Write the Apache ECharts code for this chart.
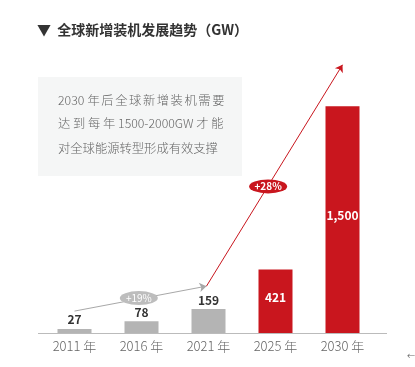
<!DOCTYPE html>
<html><head><meta charset="utf-8">
<script src="https://cdn.jsdelivr.net/npm/echarts@6/dist/echarts.min.js"></script>
<style>html,body{margin:0;padding:0;background:#fff}#c{width:415px;height:367px}</style>
</head><body><div id="c"></div>
<script>
var categories = ['2011 年', '2016 年', '2021 年', '2025 年', '2030 年'];
var values = [27, 78, 159, 421, 1500];
var labelTexts = ['27', '78', '159', '421', '1,500'];
var isForecast = [false, false, false, true, true];
var title = '▼  全球新增装机发展趋势（GW）';
var noteLine1Lead = '2030';
var noteLine1Rest = '年后全球新增装机需要';
var noteLines = ['达 到 每 年 1500-2000GW 才 能', '对全球能源转型形成有效支撑'];
// trend arrows in (category index, GW) terms
var grayArrow = [[0, 145], [1.97, 310]];
var redArrow = [[1.97, 310], [4.0, 1775]];
var badges = [{ text: '+19%', x: 0.96, y: 231, red: false }, { text: '+28%', x: 2.89, y: 970, red: true }];

var RED = '#c9161e', GRAY = '#b4b4b4';
var FONT = '"Noto Sans CJK SC", "Noto Sans", sans-serif';
var NOTE_FONT = '300 12.3px ' + FONT;

var graphics = [
  { type: 'text', left: 37, top: 23, style: { text: title, font: 'bold 14px ' + FONT, fill: '#333' } },
  { type: 'rect', shape: { x: 38, y: 77, width: 204, height: 99 }, style: { fill: '#f5f6f6' }, z: -1 },
  { type: 'text', x: 58, y: 94, style: { text: noteLine1Lead, font: NOTE_FONT, fill: '#666' } },
  { type: 'text', x: 58, y: 117, style: { text: noteLines[0], font: NOTE_FONT, fill: '#666' } },
  { type: 'text', x: 58, y: 142, style: { text: noteLines[1], font: NOTE_FONT, fill: '#666' } },
  { type: 'line', shape: { x1: 38, y1: 333.5, x2: 387, y2: 333.5 }, style: { stroke: '#bbb', lineWidth: 1 } },
  { type: 'text', x: 407, y: 352, style: { text: '←', font: '8px ' + FONT, fill: '#666' } }
];
// first note line is letter-spaced in the reference
noteLine1Rest.split('').forEach(function (ch, i) {
  graphics.push({ type: 'text', x: 87.5 + i * 13.85, y: 94, style: { text: ch, font: NOTE_FONT, fill: '#666' } });
});

var chart = echarts.init(document.getElementById('c'), null, { renderer: 'canvas' });
chart.setOption({
  backgroundColor: '#fff',
  animation: false,
  textStyle: { fontFamily: FONT },
  grid: { left: 41, right: 39, top: 61, bottom: 34 },
  xAxis: [{
    type: 'category', data: categories,
    axisLine: { show: false },
    axisTick: { show: false },
    axisLabel: { color: '#666', fontSize: 13, margin: 7, fontWeight: 300 }
  }, {
    type: 'value', min: -0.5, max: 4.5, show: false
  }],
  yAxis: { type: 'value', min: 0, max: 1800, show: false },
  graphic: graphics,
  series: [{
    type: 'bar', xAxisIndex: 0, barWidth: 34,
    data: values.map(function (v, i) {
      return {
        value: v,
        itemStyle: { color: isForecast[i] ? RED : GRAY },
        label: isForecast[i]
          ? { show: true, position: 'inside', offset: [0, -4], color: '#fff', fontWeight: 'bold', fontSize: 12, formatter: labelTexts[i] }
          : { show: true, position: 'top', distance: 3, color: '#333', fontWeight: 'bold', fontSize: 12, formatter: labelTexts[i] }
      };
    })
  }, {
    type: 'lines', coordinateSystem: 'cartesian2d', xAxisIndex: 1, yAxisIndex: 0,
    symbol: ['none', 'arrow'], symbolSize: 7, z: 5,
    data: [
      { coords: grayArrow, lineStyle: { color: '#a8a8a8', width: 1, opacity: 1 } },
      { coords: redArrow, lineStyle: { color: RED, width: 1, opacity: 1 } }
    ]
  }, {
    type: 'scatter', xAxisIndex: 1, yAxisIndex: 0, symbol: 'circle', symbolSize: [38, 14], z: 10,
    data: badges.map(function (b) {
      return {
        value: [b.x, b.y],
        itemStyle: { color: b.red ? RED : '#bdbdbd', opacity: 1 },
        label: { show: true, position: 'inside', formatter: b.text, color: '#fff', fontSize: 10, fontWeight: b.red ? 'bold' : 'normal' }
      };
    })
  }]
});
</script></body></html>
